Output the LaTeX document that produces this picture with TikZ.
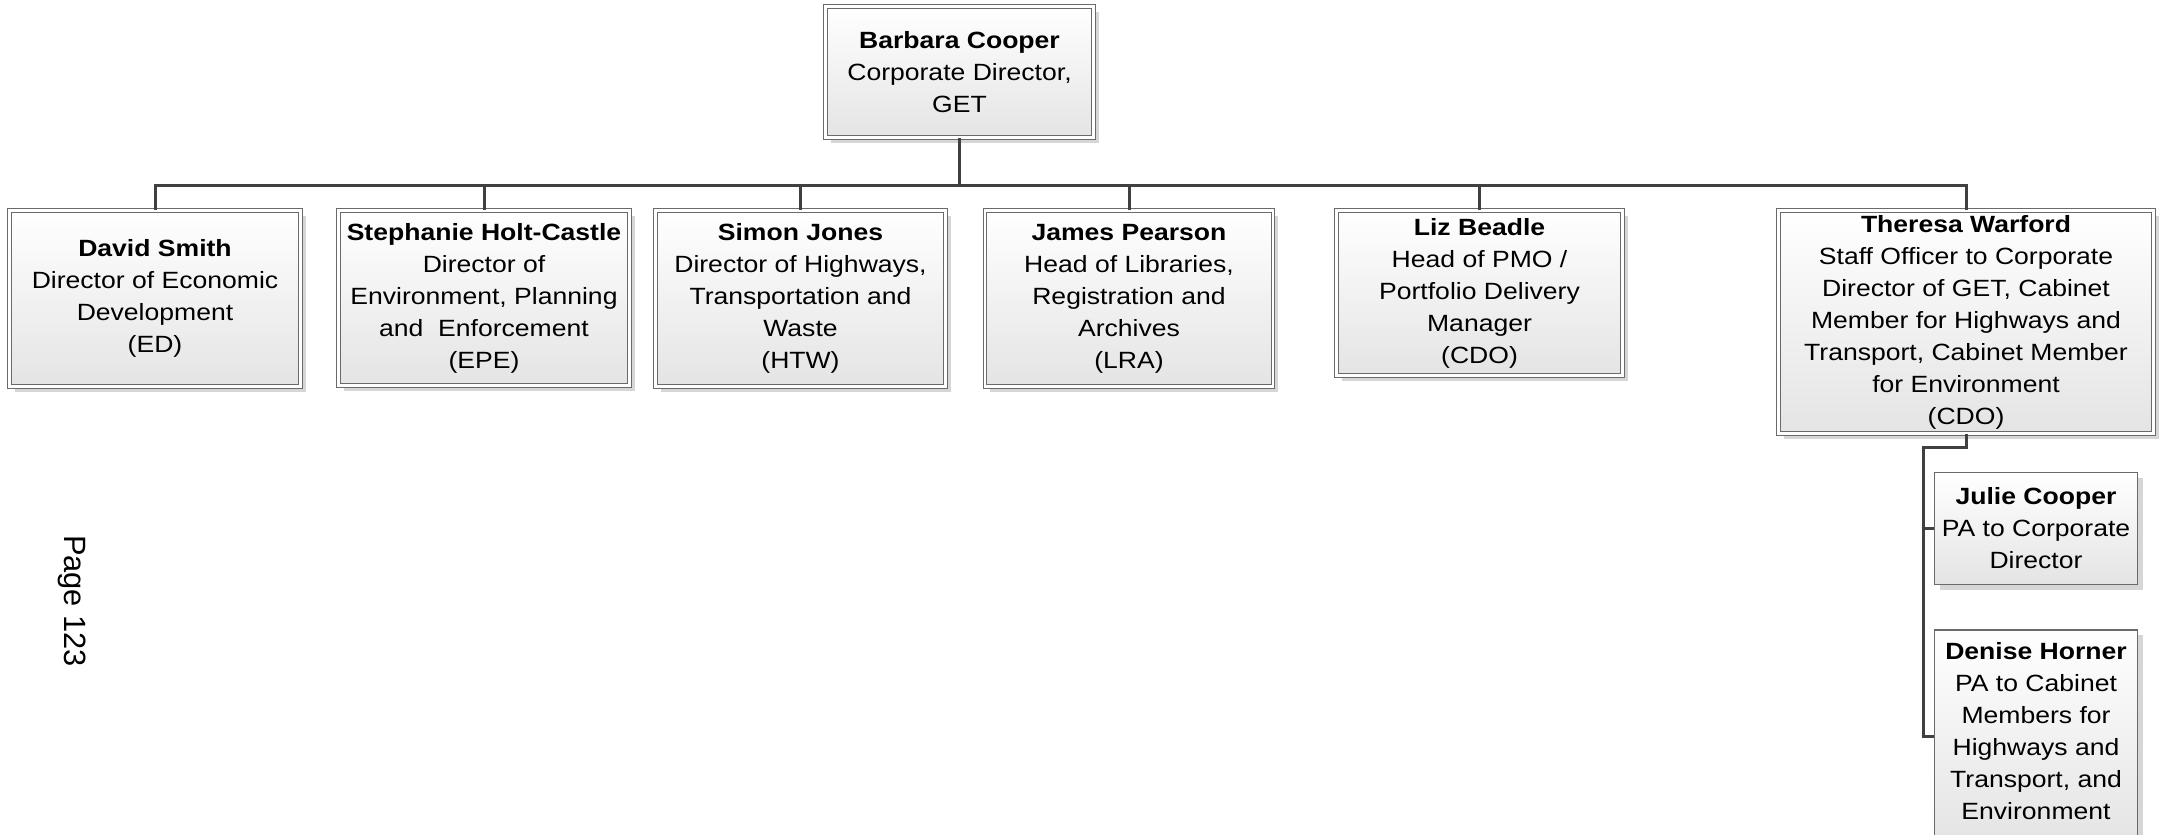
\documentclass[tikz,border=0pt]{standalone}
\usepackage{fontspec}
\setmainfont{Liberation Sans}[FakeStretch=1.13]
\newfontfamily\pagefont{Liberation Sans}
\usetikzlibrary{shadows}
\definecolor{linec}{HTML}{404040}
\definecolor{boxline}{HTML}{6A6A6A}
\definecolor{boxbot}{HTML}{E4E4E4}
\begin{document}
\begin{tikzpicture}[x=1pt,y=-1pt,
  every node/.style={font=\fontsize{23.5}{32}\selectfont},
  shadowed/.style={drop shadow={shadow xshift=5pt, shadow yshift=-5pt, fill=black!16, opacity=1}},
  orgbox/.style={shadowed, draw=boxline, line width=1.1pt, double=white, double distance=2.6pt,
    top color=white, bottom color=boxbot, inner sep=0pt, align=center},
  pabox/.style={shadowed, draw=boxline, line width=1.3pt,
    top color=white, bottom color=boxbot, inner sep=0pt, align=center},
  conn/.style={draw=linec, line width=3pt}]
\fill[white] (0,0) rectangle (2160,835);
\useasboundingbox (0,0) rectangle (2160,835);

\node[orgbox, minimum width=268pt, minimum height=131pt] (barbara) at (959.5,72)
  {\textbf{Barbara Cooper}\\Corporate Director,\\GET};

\node[orgbox, minimum width=291pt, minimum height=176pt] (david) at (155,298.5)
  {\textbf{David Smith}\\Director of Economic\\Development\\(ED)};
\node[orgbox, minimum width=291pt, minimum height=175pt] (stephanie) at (484,298)
  {\textbf{Stephanie Holt-Castle}\\Director of\\Environment, Planning\\and\ \ Enforcement\\(EPE)};
\node[orgbox, minimum width=290pt, minimum height=176pt] (simon) at (800.5,298.5)
  {\textbf{Simon Jones}\\Director of Highways,\\Transportation and\\Waste\\(HTW)};
\node[orgbox, minimum width=288pt, minimum height=176pt] (james) at (1129,298.5)
  {\textbf{James Pearson}\\Head of Libraries,\\Registration and\\Archives\\(LRA)};
\node[orgbox, minimum width=286pt, minimum height=165pt] (liz) at (1479.5,293)
  {\textbf{Liz Beadle}\\Head of PMO /\\Portfolio Delivery\\Manager\\(CDO)};
\node[orgbox, minimum width=375pt, minimum height=223pt] (theresa) at (1966,322)
  {\textbf{Theresa Warford}\\Staff Officer to Corporate\\Director of GET, Cabinet\\Member for Highways and\\Transport, Cabinet Member\\for Environment\\(CDO)};

\node[pabox, minimum width=203pt, minimum height=112pt] (julie) at (2036,528.5)
  {\textbf{Julie Cooper}\\PA to Corporate\\Director};
\node[pabox, minimum width=203pt, minimum height=212pt, text depth=10pt] (denise) at (2036,736)
  {\textbf{Denise Horner}\\PA to Cabinet\\Members for\\Highways and\\Transport, and\\Environment};

\node[rotate=-90, font=\pagefont\fontsize{30.8}{36}\selectfont] (page) at (72,601) {Page 123};

\coordinate (bus) at (0,185);
\coordinate (spine) at (1923,447);

\draw[conn] (barbara.south) -- (barbara.south |- bus);
\draw[conn] (david.north) -- (david.north |- bus) -- (theresa.north |- bus) -- (theresa.north);
\foreach \n in {stephanie,simon,james,liz}
  \draw[conn] (\n.north) -- (\n.north |- bus);
\draw[conn] (theresa.south) |- (spine) -- (spine |- denise.west) -- (denise.west);
\draw[conn] (spine |- julie.west) -- (julie.west);
\end{tikzpicture}
\end{document}
